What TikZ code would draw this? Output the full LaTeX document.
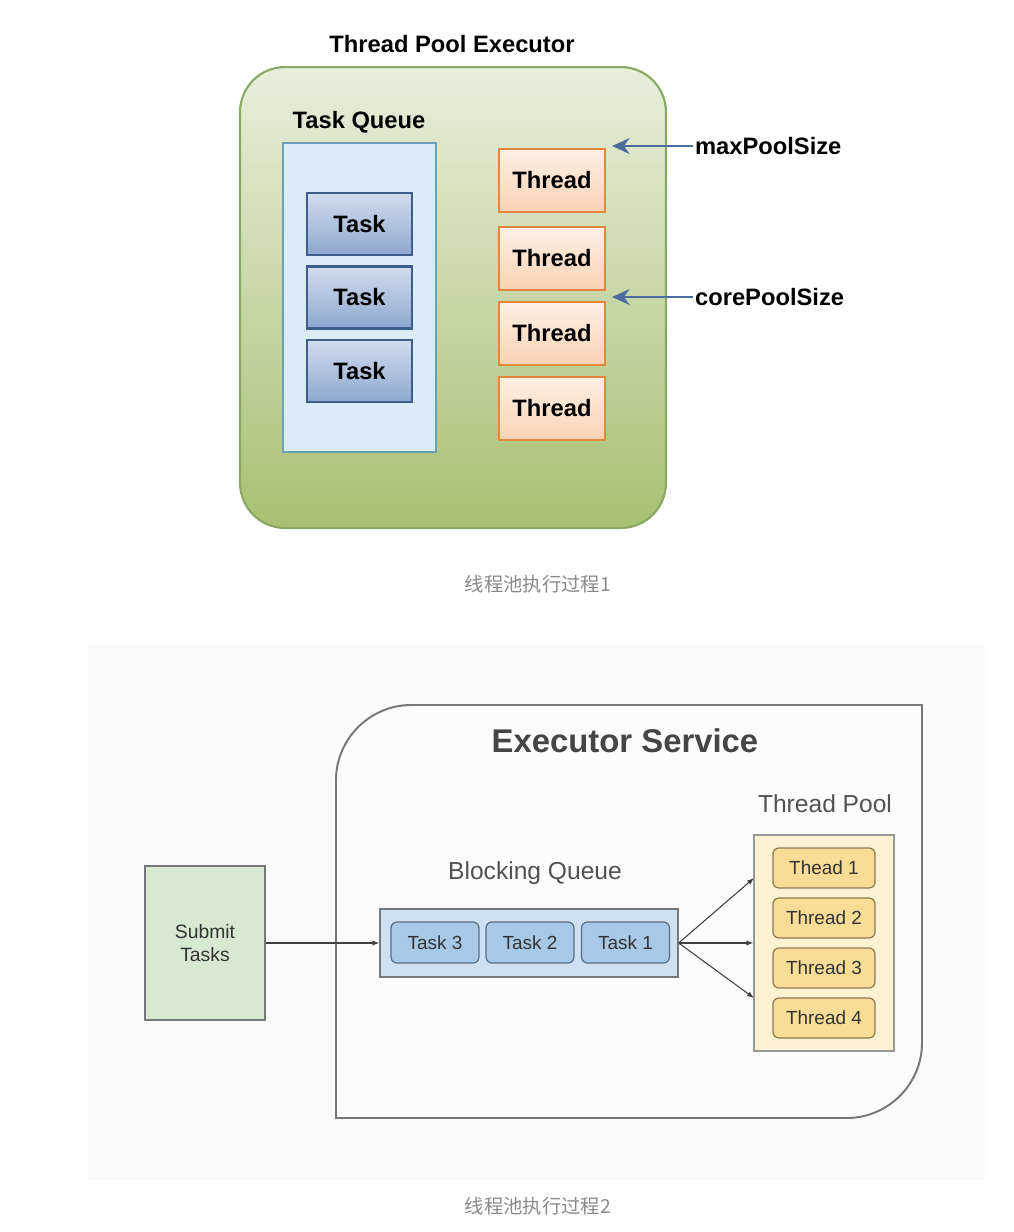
\documentclass[tikz,border=0pt]{standalone}
\usepackage{fontspec}
\setmainfont{Liberation Sans}
\newfontfamily\cjk{Noto Sans CJK SC}
\usetikzlibrary{arrows.meta}
\definecolor{poolline}{HTML}{8AA862}
\definecolor{pooltop}{HTML}{E8EEDC}
\definecolor{poolbot}{HTML}{A6C173}
\definecolor{qline}{HTML}{6C9FB8}
\definecolor{qfill}{HTML}{DCECF6}
\definecolor{taskline}{HTML}{3E5D8C}
\definecolor{tasktop}{HTML}{D2DDEE}
\definecolor{taskbot}{HTML}{8EA7CF}
\definecolor{thline}{HTML}{E4863E}
\definecolor{thtop}{HTML}{FDF0E6}
\definecolor{thbot}{HTML}{FAD2B4}
\definecolor{sizearrow}{HTML}{4C6C9B}
\definecolor{capgray}{HTML}{8A8A8A}
\definecolor{boxgray}{HTML}{777777}
\definecolor{bqfill}{HTML}{CFE0F2}
\definecolor{bqtask}{HTML}{A8C8E8}
\definecolor{bqline}{HTML}{5B6E84}
\definecolor{tpfill}{HTML}{FDF3D4}
\definecolor{tpthread}{HTML}{F9DC95}
\definecolor{tpline}{HTML}{8C7B52}
\definecolor{subfill}{HTML}{D8E9D2}
\begin{document}
\begin{tikzpicture}[x=0.02cm,y=-0.02cm,
    big/.style={font=\bfseries\fontsize{13.5}{16}\selectfont},
    task/.style={draw=taskline, line width=1.2pt, top color=tasktop, bottom color=taskbot,
      minimum width=2.1cm, minimum height=1.24cm, big},
    thread/.style={draw=thline, line width=1.2pt, top color=thtop, bottom color=thbot,
      minimum width=2.12cm, minimum height=1.26cm, big},
    caption/.style={text=capgray, font=\cjk\fontsize{11}{13}\selectfont},
    label2/.style={text=black!68, font=\fontsize{14}{16}\selectfont},
    small/.style={text=black!80, font=\fontsize{10.8}{13}\selectfont},
    bqtaskbox/.style={draw=bqline, line width=0.7pt, fill=bqtask, rounded corners=0.12cm,
      minimum width=1.76cm, minimum height=0.82cm, small},
    tpthreadbox/.style={draw=tpline, line width=0.7pt, fill=tpthread, rounded corners=0.12cm,
      minimum width=2.04cm, minimum height=0.8cm, small},
    flow/.style={draw=black!75, line width=0.6pt, -{Latex[length=4pt,width=3pt]}}]
\useasboundingbox (0,0) rectangle (1014,1232);
\fill[white] (0,0) rectangle (1014,1232);

% Thread Pool Executor
\node[big] (title) at (452,44) {Thread Pool Executor};
\node[draw=poolline, line width=1.2pt, rounded corners=0.9cm, top color=pooltop, bottom color=poolbot,
  minimum width=8.52cm, minimum height=9.22cm] (pool) at (453,297.5) {};
\node[big] (tql) at (359,122) {Task Queue};
\node[draw=qline, line width=1.2pt, fill=qfill, minimum width=3.06cm, minimum height=6.18cm] (tq) at (359.5,297.5) {};
\node[task] (t1) at (359.5,224) {Task};
\node[task] (t2) at (359.5,297.5) {Task};
\node[task] (t3) at (359.5,371) {Task};
\node[thread] (h1) at (552,180.5) {Thread};
\node[thread] (h2) at (552,258.5) {Thread};
\node[thread] (h3) at (552,333.5) {Thread};
\node[thread] (h4) at (552,408.5) {Thread};
\node[big, anchor=west, inner sep=1pt] (maxl) at (693,146) {maxPoolSize};
\node[big, anchor=west, inner sep=1pt] (corel) at (693,297) {corePoolSize};
\coordinate (maxtip) at (612,146);
\coordinate (coretip) at (612,297);
\draw[sizearrow, line width=1.5pt, -{Stealth[length=10pt,width=9pt]}] (maxl.west) -- (maxtip);
\draw[sizearrow, line width=1.5pt, -{Stealth[length=10pt,width=9pt]}] (corel.west) -- (coretip);
\node[caption] (cap1) at (538,584) {线程池执行过程1};

% Executor Service
\fill[black!2] (88,645) rectangle (985,1180);
\draw[boxgray, line width=1.1pt, fill=black!1] (336,1118) -- (336,780) .. controls (336,739) and (370,705) .. (411,705)
  -- (922,705) -- (922,1043) .. controls (922,1084) and (888,1118) .. (847,1118) -- cycle;
\node[text=black!73, font=\bfseries\fontsize{18.7}{22}\selectfont] (es) at (625,741) {Executor Service};
\node[label2] (tpl) at (825,804) {Thread Pool};
\node[draw=black!40, line width=0.8pt, fill=tpfill, minimum width=2.8cm, minimum height=4.32cm] (tp) at (824,943) {};
\node[tpthreadbox] (p1) at (824,868) {Thead 1};
\node[tpthreadbox] (p2) at (824,918) {Thread 2};
\node[tpthreadbox] (p3) at (824,968) {Thread 3};
\node[tpthreadbox] (p4) at (824,1018) {Thread 4};
\node[label2] (bql) at (535,873) {Blocking Queue};
\node[draw=boxgray, line width=0.8pt, fill=bqfill, minimum width=5.96cm, minimum height=1.36cm] (bq) at (529,943) {};
\node[bqtaskbox] (q3) at (435,942.5) {Task 3};
\node[bqtaskbox] (q2) at (530,942.5) {Task 2};
\node[bqtaskbox] (q1) at (625.5,942.5) {Task 1};
\node[draw=boxgray, line width=0.8pt, fill=subfill, minimum width=2.4cm, minimum height=3.08cm,
  align=center, small, font=\fontsize{11}{13}\selectfont] (sub) at (205,943) {Submit\\Tasks};
\coordinate (in1) at (754,878);
\coordinate (in4) at (754,998);
\draw[flow] (sub.east) -- (bq.west);
\draw[flow] (bq.east) -- (in1);
\draw[flow] (bq.east) -- (tp.west);
\draw[flow] (bq.east) -- (in4);
\node[caption] (cap2) at (538,1206) {线程池执行过程2};
\end{tikzpicture}
\end{document}
